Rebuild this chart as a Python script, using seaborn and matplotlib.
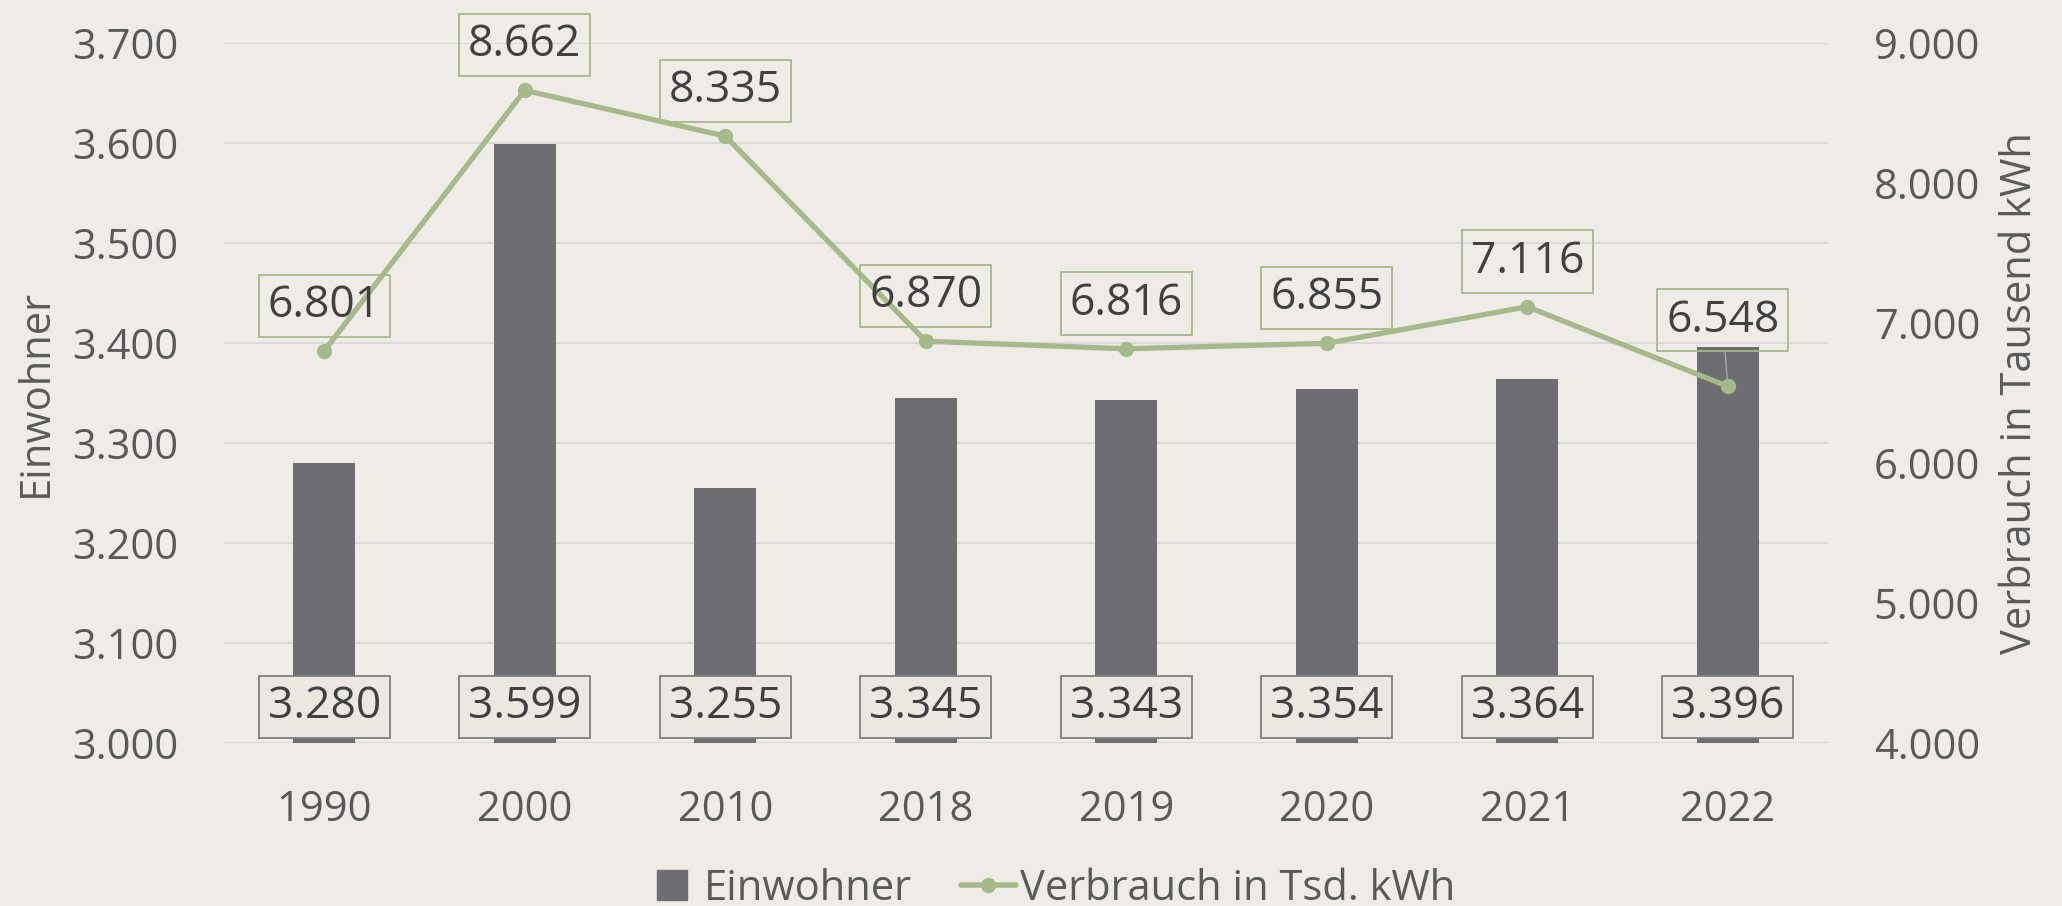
import numpy as np
import pandas as pd
import matplotlib
matplotlib.use("Agg")
import matplotlib.pyplot as plt
import seaborn as sns
from matplotlib.lines import Line2D

# ---- data ----
years = ["1990", "2000", "2010", "2018", "2019", "2020", "2021", "2022"]
einwohner = [3280, 3599, 3255, 3345, 3343, 3354, 3364, 3396]
verbrauch = [6801, 8662, 8335, 6870, 6816, 6855, 7116, 6548]
left_ticks = [3000, 3100, 3200, 3300, 3400, 3500, 3600, 3700]
right_ticks = [4000, 5000, 6000, 7000, 8000, 9000]
bar_name = "Einwohner"
line_name = "Verbrauch in Tsd. kWh"
left_label = "Einwohner"
right_label = "Verbrauch in Tausend kWh"

BG = "#EFECE7"
BAR = "#6E6D72"
LINE = "#A6B98B"
GRID = "#D9D9D9"
TICK = "#595959"
LAB = "#404040"


def fmt(v):
    return f"{v:,}".replace(",", ".")


sns.set_theme(style="white")
plt.rcParams["font.family"] = ["Open Sans", "DejaVu Sans"]

W, H = 2062, 906
fig = plt.figure(figsize=(W / 100, H / 100), dpi=100, facecolor=BG)
ax = fig.add_axes([224 / W, 1 - 743 / H, 1604 / W, 700 / H])
ax.set_facecolor(BG)

df = pd.DataFrame({"Jahr": years, "Einwohner": einwohner, "Verbrauch": verbrauch})
sns.barplot(data=df, x="Jahr", y="Einwohner", ax=ax, color=BAR, width=0.31,
            saturation=1, edgecolor=BAR, linewidth=0, zorder=2)
ax.set_ylim(left_ticks[0], left_ticks[-1])
ax.set_yticks(left_ticks)
ax.set_yticklabels([fmt(v) for v in left_ticks])
ax.yaxis.grid(True, color=GRID, lw=1.5)
ax.xaxis.grid(False)
ax.set_axisbelow(True)
for s in ax.spines.values():
    s.set_visible(False)
ax.tick_params(axis="both", length=0, labelsize=30, labelcolor=TICK)
ax.tick_params(axis="y", pad=33)
ax.tick_params(axis="x", pad=33)
ax.set_xlabel("")
ax.set_ylabel("")

ax2 = ax.twinx()
sns.pointplot(data=df, x="Jahr", y="Verbrauch", ax=ax2, color=LINE,
              markers="o", markersize=11, linewidth=3.8, errorbar=None)
for ln in ax2.lines:
    ln.set_linewidth(3.8)
    ln.set_markersize(11)
    ln.set_markeredgewidth(0)
ax2.set_ylim(right_ticks[0], right_ticks[-1])
ax2.set_yticks(right_ticks)
ax2.set_yticklabels([fmt(v) for v in right_ticks])
ax2.grid(False)
for s in ax2.spines.values():
    s.set_visible(False)
ax2.tick_params(axis="y", length=0, labelsize=30, labelcolor=TICK, pad=33)
ax2.set_xlabel("")
ax2.set_ylabel("")
ax.set_xlim(-0.5, len(years) - 0.5)

# bar value labels
for i, v in enumerate(einwohner):
    ax.text(i, 3036, fmt(v), ha="center", va="center", fontsize=32, color=LAB,
            zorder=6,
            bbox=dict(boxstyle="square,pad=0.2", fc="#EBE7E1", ec="#7F7F7F", lw=1.3))

# line value labels
for i, v in enumerate(verbrauch):
    if i == len(verbrauch) - 1:
        off = (-3.6, 47.5)
        ap = dict(arrowstyle="-", color="#A6A6A6", lw=1.0, shrinkA=0, shrinkB=0)
    else:
        off = (0, 32.5)
        ap = None
    ax2.annotate(fmt(v), xy=(i, v), xytext=off, textcoords="offset points",
                 ha="center", va="center", fontsize=32, color=LAB, zorder=7,
                 arrowprops=ap,
                 bbox=dict(boxstyle="square,pad=0.2", fc="none", ec=LINE, lw=1.3))

# axis titles
fig.text(36 / W, 1 - 393 / H, left_label, rotation=90, ha="center", va="center",
         fontsize=30, color=TICK)
fig.text(2020 / W, 1 - 393 / H, right_label, rotation=90, ha="center", va="center",
         fontsize=30, color=TICK)

# legend
handles = [
    Line2D([], [], marker="s", ls="none", markersize=22, color=BAR),
    Line2D([], [], marker="o", ls="-", lw=4, markersize=10, color=LINE),
]
fig.legend(handles, [bar_name, line_name], loc="center",
           bbox_to_anchor=(1050 / W, 1 - 889 / H), ncol=2, frameon=False,
           fontsize=30, labelcolor=TICK, handlelength=1.3, handletextpad=0.1,
           columnspacing=1.2, borderpad=0)

fig.savefig("out.png", dpi=100, facecolor=BG)
